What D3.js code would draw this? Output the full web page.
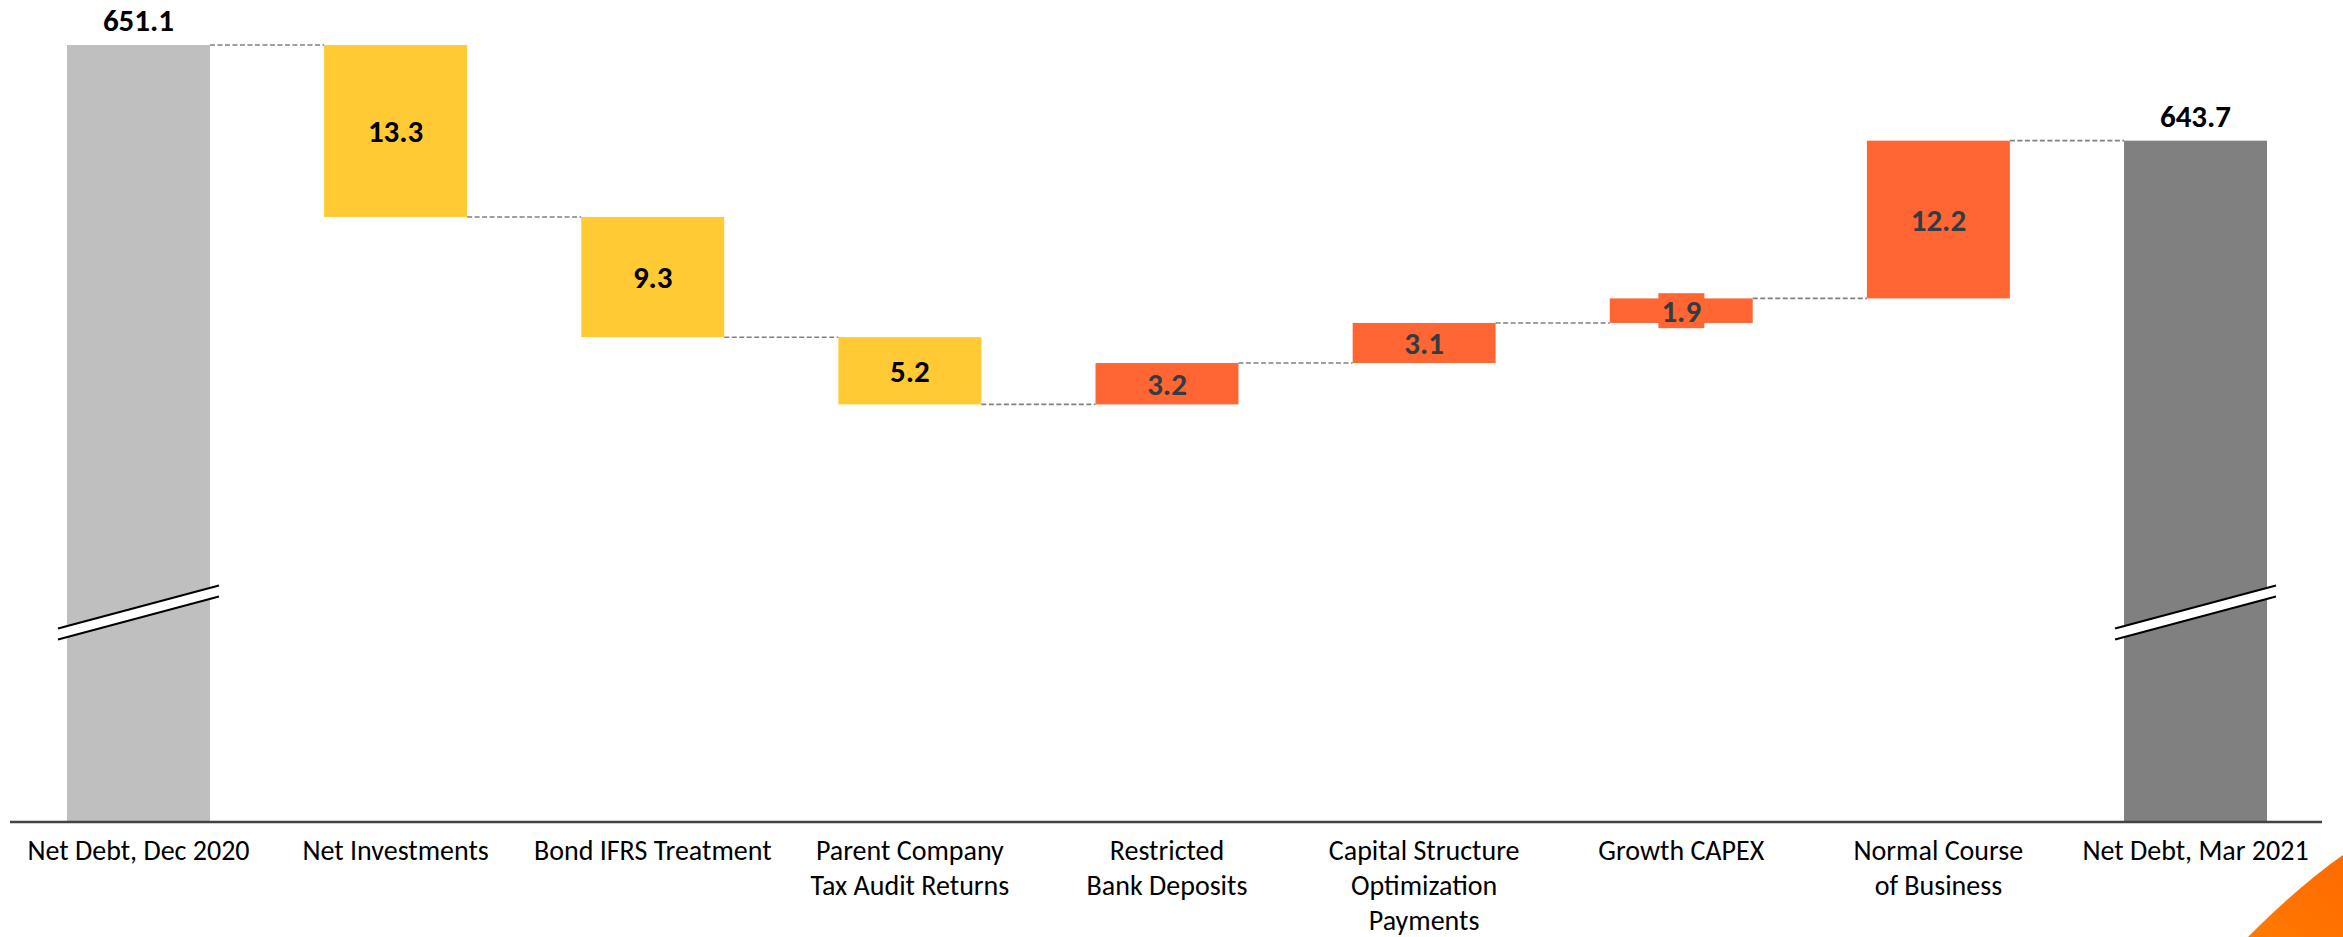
<!DOCTYPE html>
<html>
<head>
<meta charset="utf-8">
<script src="https://cdn.jsdelivr.net/npm/d3@7"></script>
<style>
  html, body { margin: 0; padding: 0; background: #ffffff; }
  svg { display: block; }
  .cat { font-family: Carlito, Lato, "Liberation Sans", sans-serif; font-size: 28px; fill: #000; }
  .val { font-family: Carlito, Lato, "Liberation Sans", sans-serif; font-size: 31px; font-weight: 700; }
</style>
</head>
<body>
<svg id="chart" width="2343" height="937"></svg>
<script>
// Net debt bridge, Dec 2020 -> Mar 2021
const categories = [
  "Net Debt, Dec 2020",
  "Net Investments",
  "Bond IFRS Treatment",
  "Parent Company\nTax Audit Returns",
  "Restricted\nBank Deposits",
  "Capital Structure\nOptimization\nPayments",
  "Growth CAPEX",
  "Normal Course\nof Business",
  "Net Debt, Mar 2021"
];
const openingDebt = 651.1;
const closingDebt = 643.7;
const changes = [-13.3, -9.3, -5.2, 3.2, 3.1, 1.9, 12.2];
const axisFloor = 591;      // value at the broken axis baseline
const breakLevel = 607.2;   // where the total bars are visually cut

const colors = {
  opening: "#bfbfbf",
  closing: "#808080",
  decrease: "#ffca33",
  increase: "#ff6633",
  decreaseText: "#000000",
  increaseText: "#323c42"
};

// Build the waterfall steps
const steps = [];
steps.push({ cat: categories[0], y0: axisFloor, y1: openingDebt, label: openingDebt, kind: "opening" });
let running = openingDebt;
changes.forEach((c, i) => {
  const start = running;
  running = +(running + c).toFixed(1);
  steps.push({
    cat: categories[i + 1],
    y0: Math.min(start, running),
    y1: Math.max(start, running),
    end: running,
    label: Math.abs(c),
    kind: c < 0 ? "decrease" : "increase"
  });
});
steps.push({ cat: categories[8], y0: axisFloor, y1: closingDebt, label: closingDebt, kind: "closing" });
steps[0].end = openingDebt;
steps[8].end = closingDebt;

const svg = d3.select("#chart");

const x = d3.scaleBand().domain(categories).range([67, 2267]).paddingInner(0.444).paddingOuter(0);
const y = d3.scaleLinear().domain([axisFloor, openingDebt]).range([822, 45]);

// Bars
svg.append("g").selectAll("rect").data(steps).join("rect")
  .attr("x", d => x(d.cat))
  .attr("width", x.bandwidth())
  .attr("y", d => y(d.y1))
  .attr("height", d => y(d.y0) - y(d.y1))
  .attr("fill", d => colors[d.kind]);

// Dashed connectors between consecutive bars
const links = steps.slice(0, -1).map((d, i) => ({ from: d, to: steps[i + 1], level: d.end }));
svg.append("g").selectAll("line").data(links).join("line")
  .attr("x1", d => x(d.from.cat) + x.bandwidth())
  .attr("x2", d => x(d.to.cat))
  .attr("y1", d => y(d.level))
  .attr("y2", d => y(d.level))
  .attr("stroke", "#808080")
  .attr("stroke-width", 1.6)
  .attr("stroke-dasharray", "5,2.5");

// Axis break marks on the two total bars
const breaks = steps.filter(d => d.kind === "opening" || d.kind === "closing");
const bw = x.bandwidth();
const ext = 9, rise = 43, gap = 11;
const gBreak = svg.append("g").selectAll("g").data(breaks).join("g");
gBreak.append("path")
  .attr("d", d => {
    const xl = x(d.cat) - ext, xr = x(d.cat) + bw + ext;
    const yc = y(breakLevel);
    const yl = yc + rise / 2 - gap / 2, yr = yc - rise / 2 - gap / 2;
    return `M${xl},${yl}L${xr},${yr}L${xr},${yr + gap}L${xl},${yl + gap}Z`;
  })
  .attr("fill", "#ffffff");
[0, 1].forEach(k => {
  gBreak.append("line")
    .attr("x1", d => x(d.cat) - ext)
    .attr("x2", d => x(d.cat) + bw + ext)
    .attr("y1", d => y(breakLevel) + rise / 2 - gap / 2 + k * gap)
    .attr("y2", d => y(breakLevel) - rise / 2 - gap / 2 + k * gap)
    .attr("stroke", "#000")
    .attr("stroke-width", 2);
});

// Baseline
svg.append("line")
  .attr("x1", 10).attr("x2", 2322)
  .attr("y1", y(axisFloor)).attr("y2", y(axisFloor))
  .attr("stroke", "#3f4444").attr("stroke-width", 2.5);

// Category labels (multi-line)
const catG = svg.append("g").selectAll("text").data(categories).join("text")
  .attr("class", "cat")
  .attr("text-anchor", "middle")
  .attr("x", d => x(d) + bw / 2)
  .attr("y", 860);
catG.selectAll("tspan").data(d => d.split("\n")).join("tspan")
  .attr("x", function () { return d3.select(this.parentNode).attr("x"); })
  .attr("dy", (d, i) => i === 0 ? 0 : 35)
  .text(d => d);

// Value labels
const valG = svg.append("g");
steps.forEach(d => {
  const cx = x(d.cat) + bw / 2;
  const isTotal = d.kind === "opening" || d.kind === "closing";
  const cy = isTotal ? y(d.y1) - 14 : (y(d.y0) + y(d.y1)) / 2;
  const g = valG.append("g");
  const t = g.append("text")
    .attr("class", "val")
    .attr("x", cx)
    .attr("y", cy)
    .attr("text-anchor", "middle")
    .attr("dominant-baseline", isTotal ? "alphabetic" : "central")
    .attr("fill", d.kind === "increase" ? colors.increaseText : "#000")
    .text(d.label.toFixed(1));
  if (!isTotal) {
    const bb = t.node().getBBox();
    const barH = y(d.y0) - y(d.y1);
    if (barH < bb.height) {
      g.insert("rect", "text")
        .attr("x", bb.x - 3).attr("y", cy - 17.5)
        .attr("width", bb.width + 6).attr("height", 35)
        .attr("fill", colors[d.kind]);
    }
  }
});

// Corner accent
const defs = svg.append("defs");
const grad = defs.append("linearGradient").attr("id", "accent").attr("x1", 0).attr("y1", 1).attr("x2", 1).attr("y2", 0);
grad.append("stop").attr("offset", 0).attr("stop-color", "#ff7a00");
grad.append("stop").attr("offset", 1).attr("stop-color", "#ff6a00");
svg.append("path")
  .attr("d", "M2248,937 Q2300,885 2343,855 L2343,937 Z")
  .attr("fill", "url(#accent)");
</script>
</body>
</html>
